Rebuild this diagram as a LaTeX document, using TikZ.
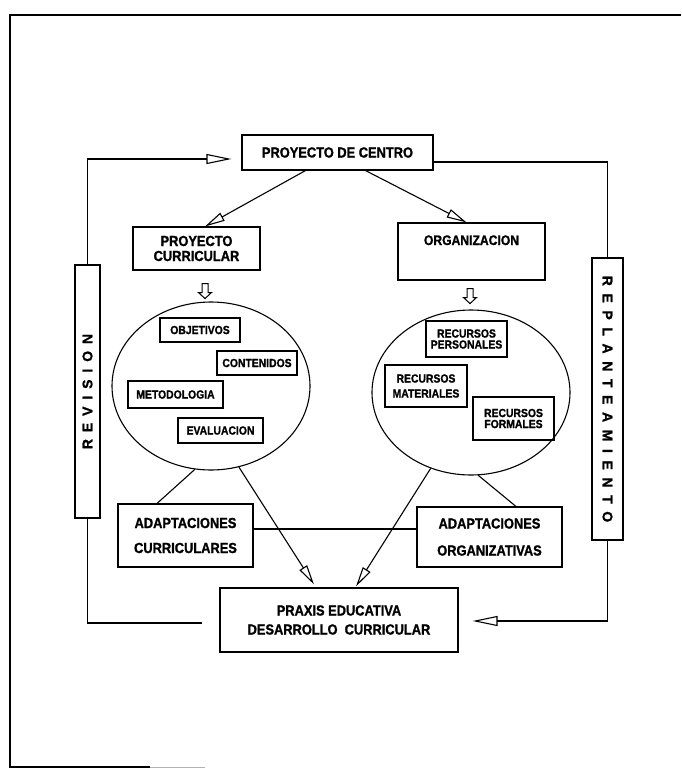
\documentclass[tikz,border=0pt]{standalone}
\usepackage{fontspec}
\setmainfont{Liberation Sans}
\newfontfamily\boxfont{Liberation Sans}[FakeStretch=0.88, FakeBold=1.2]
\newfontfamily\sidefont{Liberation Sans}[FakeBold=1.2]
\usetikzlibrary{arrows.meta,shapes.geometric,calc}
\newcommand{\gapR}{\hspace{6.9pt}}
\newcommand{\gapP}{\hspace{7.6pt}}
\begin{document}
\begin{tikzpicture}[x=1pt,y=-1pt,line width=1.1pt,
  box/.style={draw, line width=1.1pt, inner sep=0pt, align=center,
    font=\boxfont\fontsize{14.6}{15}\selectfont\bfseries},
  smallbox/.style={draw, line width=1.1pt, inner sep=0pt, align=center,
    font=\boxfont\fontsize{11.8}{12}\selectfont\bfseries},
  sidebox/.style={draw, line width=1.1pt, inner sep=0pt,
    font=\sidefont\fontsize{14}{14}\selectfont\bfseries},
  group/.style={draw, ellipse, line width=1.1pt, inner sep=0pt},
  loophead/.style={-{Triangle[open,length=25pt,width=10pt]}},
  midhead/.style={-{Triangle[open,length=20pt,width=9pt]}},
  downarrow/.pic={\draw[line width=1pt, fill=white]
      (-3,0) -- (-3,9) -- (-6.5,9) -- (0,15) -- (6.5,9) -- (3,9) -- (3,0) -- cycle;},
]
\useasboundingbox (0,0) rectangle (681,769);

% outer frame
\draw[line width=1.8pt] (681,15) -- (10,15) -- (10,767) -- (150,767);
\draw[line width=1pt, gray!60] (150,767) -- (205,767);

% main boxes
\node[box, minimum width=191pt, minimum height=35pt] (centro) at (337.5,152.5) {PROYECTO DE CENTRO};
\node[box, minimum width=127pt, minimum height=43pt] (curric) at (196.5,248.5) {PROYECTO\\CURRICULAR};
\node[box, minimum width=147pt, minimum height=57pt, text height=10pt, text depth=23pt,
      font=\boxfont\fontsize{13.8}{14}\selectfont\bfseries] (organiz) at (471.5,251.5) {ORGANIZACION};

% groups
\node[group, minimum width=198pt, minimum height=168pt] (elL) at (211,386) {};
\node[group, minimum width=198pt, minimum height=165pt] (elR) at (471,392.5) {};

% contents of the curricular group
\node[smallbox, minimum width=80pt, minimum height=24pt] (obj) at (200,330) {OBJETIVOS};
\node[smallbox, minimum width=80pt, minimum height=24pt] (cont) at (257,363) {CONTENIDOS};
\node[smallbox, minimum width=95pt, minimum height=27pt] (met) at (175.5,394.5) {METODOLOGIA};
\node[smallbox, minimum width=85pt, minimum height=25pt] (eval) at (220.5,430.5) {EVALUACION};

% contents of the organization group
\node[smallbox, minimum width=81pt, minimum height=36pt] (pers) at (466.5,339) {RECURSOS\\[-1pt]PERSONALES};
\node[smallbox, minimum width=82pt, minimum height=42pt] (mat) at (426,386) {RECURSOS\\[3pt]MATERIALES};
\node[smallbox, minimum width=81pt, minimum height=43pt] (form) at (513.5,418.5) {RECURSOS\\[-1pt]FORMALES};

% adaptations and practice
\node[box, minimum width=135pt, minimum height=63pt] (adcurr) at (185.5,535.5) {ADAPTACIONES\\[10pt]CURRICULARES};
\node[box, minimum width=145pt, minimum height=60pt] (adorg) at (489.5,537) {ADAPTACIONES\\[12pt]ORGANIZATIVAS};
\node[box, minimum width=238pt, minimum height=64pt] (praxis) at (339,620) {PRAXIS EDUCATIVA\\[4pt]DESARROLLO\ \ CURRICULAR};

% side boxes
\node[sidebox, rotate=90, minimum width=253pt, minimum height=25pt] (revision) at (87.5,391.5)
  {R\gapR E\gapR V\gapR I\gapR S\gapR I\gapR O\gapR N};
\node[sidebox, rotate=-90, minimum width=282pt, minimum height=31pt] (replant) at (607.5,399)
  {R\gapP E\gapP P\gapP L\gapP A\gapP N\gapP T\gapP E\gapP A\gapP M\gapP I\gapP E\gapP N\gapP T\gapP O};

% project branches
\draw[midhead] ([xshift=-32pt]centro.south) -- ([xshift=8.5pt]curric.north);
\draw[midhead] ([xshift=28pt]centro.south) -- ([xshift=-5pt]organiz.north);

% block arrows into the groups
\pic at ([xshift=8.5pt,yshift=-13pt]curric.south) {downarrow};
\pic at ([xshift=-1.5pt,yshift=-8pt]organiz.south) {downarrow};

% from the groups downwards
\draw (elL.259) -- ([xshift=-28.5pt]adcurr.north);
\draw[midhead] (elL.289) -- ([xshift=-25pt,yshift=3pt]praxis.north);
\draw[midhead] (elR.242) -- ([xshift=17pt,yshift=1pt]praxis.north);
\draw (elR.275) -- ([xshift=26.5pt]adorg.north);
\draw ([yshift=6.5pt]adcurr.east) -- ([yshift=6.5pt]adcurr.east -| adorg.west);

% feedback loops
\draw[loophead] (revision.east) |- ([xshift=-10pt,yshift=-6.5pt]centro.west);
\draw ([yshift=-9.5pt]centro.east) -| (replant.west);
\draw[loophead] (replant.east) |- ([xshift=14pt,yshift=-1pt]praxis.east);
\draw ([xshift=-17pt,yshift=-3pt]praxis.west) -| (revision.west);
\end{tikzpicture}
\end{document}
